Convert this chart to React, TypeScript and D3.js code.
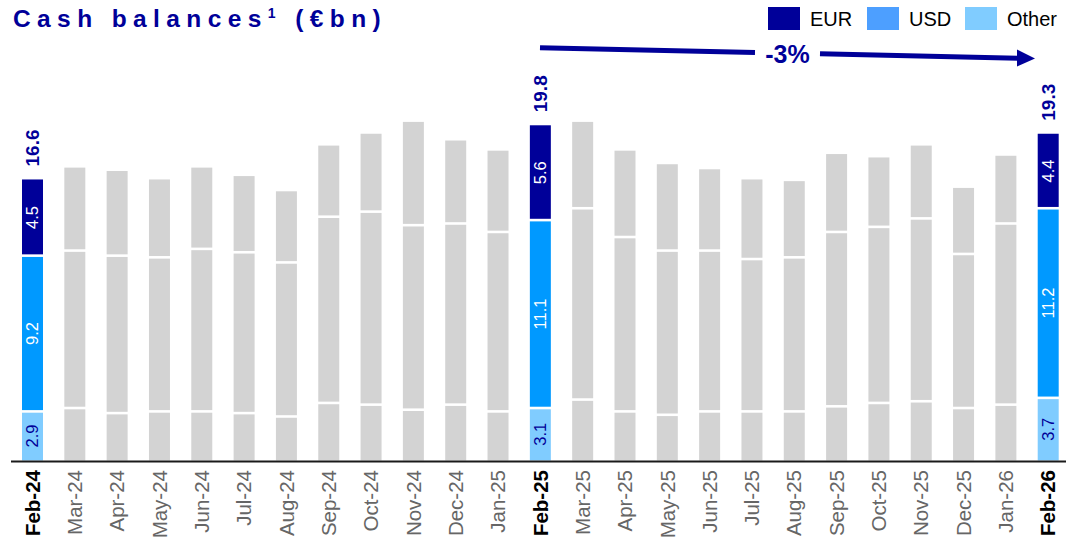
import React from "react";
import * as d3 from "d3";

const months = [
  "Feb-24", "Mar-24", "Apr-24", "May-24", "Jun-24", "Jul-24", "Aug-24", "Sep-24", "Oct-24",
  "Nov-24", "Dec-24", "Jan-25", "Feb-25", "Mar-25", "Apr-25", "May-25", "Jun-25", "Jul-25",
  "Aug-25", "Sep-25", "Oct-25", "Nov-25", "Dec-25", "Jan-26", "Feb-26",
];
const otherVals = [2.9, 3.1, 2.8, 2.9, 2.9, 2.8, 2.6, 3.4, 3.3, 3.0, 3.3, 2.9, 3.1, 3.6, 2.9, 2.7, 2.9, 2.9, 2.9, 3.2, 3.4, 3.5, 3.1, 3.3, 3.7];
const usdVals = [9.2, 9.3, 9.3, 9.1, 9.6, 9.5, 9.1, 11.0, 11.4, 10.9, 10.7, 10.6, 11.1, 11.3, 10.3, 9.7, 9.5, 9.0, 9.1, 10.3, 10.4, 10.8, 9.1, 10.7, 11.2];
const eurVals = [4.5, 4.9, 5.0, 4.6, 4.8, 4.5, 4.2, 4.2, 4.6, 6.1, 4.9, 4.8, 5.6, 5.1, 5.1, 5.1, 4.8, 4.7, 4.5, 4.6, 4.1, 4.3, 3.9, 4.0, 4.4];
const highlighted = ["Feb-24", "Feb-25", "Feb-26"];
const seriesNames = ["Other", "USD", "EUR"];
const legendNames = ["EUR", "USD", "Other"];
const changeLabel = "-3%";

const W = 1066;
const H = 542;
const FONT = "Arial, 'Liberation Sans', Helvetica, sans-serif";
const NAVY = "#000099";
const barColors: Record<string, string> = { EUR: "#000099", USD: "#0099FF", Other: "#80CCFF" };
const legendColors: Record<string, string> = { EUR: "#000099", USD: "#4D9FFF", Other: "#80CCFF" };
const GRAY = "#D3D3D3";

export default function App() {
  const x = d3.scaleBand<string>().domain(months).range([11, 1069.7]).paddingInner(0.504).paddingOuter(0.26);
  const y = d3.scaleLinear().domain([0, 20]).range([460.5, 460.5 - 20 * 16.93]);
  const rows = months.map((m, i) => ({ month: m, Other: otherVals[i], USD: usdVals[i], EUR: eurVals[i] }));
  const stacked = d3.stack<any>().keys(seriesNames)(rows);
  const bw = x.bandwidth();
  const gap = 1.3;

  // arrow
  const ax0 = 540, ay0 = 47.7, ax1 = 1035, ay1 = 58.5;
  const slope = (ay1 - ay0) / (ax1 - ax0);
  const ly = (xx: number) => ay0 + (xx - ax0) * slope;
  const gapL = 755, gapR = 820, headLen = 18, headHalf = 8.5;
  const headBase = ax1 - headLen;

  return (
    <svg width={W} height={H} style={{ position: "absolute", left: 0, top: 0, display: "block", background: "#fff" }} fontFamily={FONT}>
      {/* Title */}
      <text x={13} y={27} fill={NAVY} fontSize={24.5} fontWeight="bold" letterSpacing={6.4}>
        Cash balances
        <tspan fontSize={14} dy={-9}>1</tspan>
        <tspan dy={9}> (€bn)</tspan>
      </text>

      {/* Legend */}
      {legendNames.map((n, i) => {
        const sx = [768, 867, 965][i];
        return (
          <g key={n}>
            <rect x={sx} y={7} width={32} height={23} fill={legendColors[n]} />
            <text x={sx + 42} y={18.5} dy="0.35em" fontSize={20} fill="#000">{n}</text>
          </g>
        );
      })}

      {/* Arrow */}
      <line x1={ax0} y1={ly(ax0)} x2={gapL} y2={ly(gapL)} stroke={NAVY} strokeWidth={5} />
      <line x1={gapR} y1={ly(gapR)} x2={headBase + 1} y2={ly(headBase + 1)} stroke={NAVY} strokeWidth={5} />
      <polygon
        points={`${ax1},${ay1} ${headBase},${ly(headBase) - headHalf} ${headBase},${ly(headBase) + headHalf}`}
        fill={NAVY}
      />
      <text x={(gapL + gapR) / 2} y={ly((gapL + gapR) / 2) + 1} dy="0.35em" textAnchor="middle" fontSize={25} fontWeight="bold" fill={NAVY}>
        {changeLabel}
      </text>

      {/* Bars */}
      {stacked.map((layer, li) =>
        layer.map((d, i) => {
          const m = months[i];
          const hl = highlighted.includes(m);
          const top = y(d[1]) + (li === stacked.length - 1 ? 0 : gap);
          const bottom = y(d[0]) - (li === 0 ? 0 : gap);
          return (
            <rect
              key={`${li}-${i}`}
              x={x(m)}
              y={top}
              width={bw}
              height={Math.max(0, bottom - top)}
              fill={hl ? barColors[layer.key] : GRAY}
            />
          );
        })
      )}

      {/* Segment labels */}
      {stacked.map((layer, li) =>
        layer.map((d, i) => {
          const m = months[i];
          if (!highlighted.includes(m)) return null;
          const cx = (x(m) as number) + bw / 2;
          const cy = (y(d[0]) + y(d[1])) / 2;
          const v = d[1] - d[0];
          return (
            <text
              key={`l-${li}-${i}`}
              transform={`translate(${cx},${cy}) rotate(-90)`}
              textAnchor="middle"
              dy="0.35em"
              fontSize={16.5}
              fill={layer.key === "Other" ? NAVY : "#fff"}
            >
              {v.toFixed(1)}
            </text>
          );
        })
      )}

      {/* Totals */}
      {months.map((m, i) => {
        if (!highlighted.includes(m)) return null;
        const total = otherVals[i] + usdVals[i] + eurVals[i];
        const cx = (x(m) as number) + bw / 2;
        return (
          <text
            key={`t-${m}`}
            transform={`translate(${cx},${y(total) - 13}) rotate(-90)`}
            dy="0.35em"
            fontSize={19}
            fontWeight="bold"
            fill={NAVY}
          >
            {total.toFixed(1)}
          </text>
        );
      })}

      {/* Axis */}
      <line x1={11} x2={1066} y1={461.5} y2={461.5} stroke="#1a1a1a" strokeWidth={2} />
      {months.map((m) => {
        const hl = highlighted.includes(m);
        const cx = (x(m) as number) + bw / 2;
        return (
          <text
            key={`c-${m}`}
            transform={`translate(${cx},470) rotate(-90)`}
            textAnchor="end"
            dy="0.35em"
            fontSize={20.5}
            fontWeight={hl ? "bold" : "normal"}
            fill={hl ? "#000" : "#666"}
          >
            {m}
          </text>
        );
      })}
    </svg>
  );
}
